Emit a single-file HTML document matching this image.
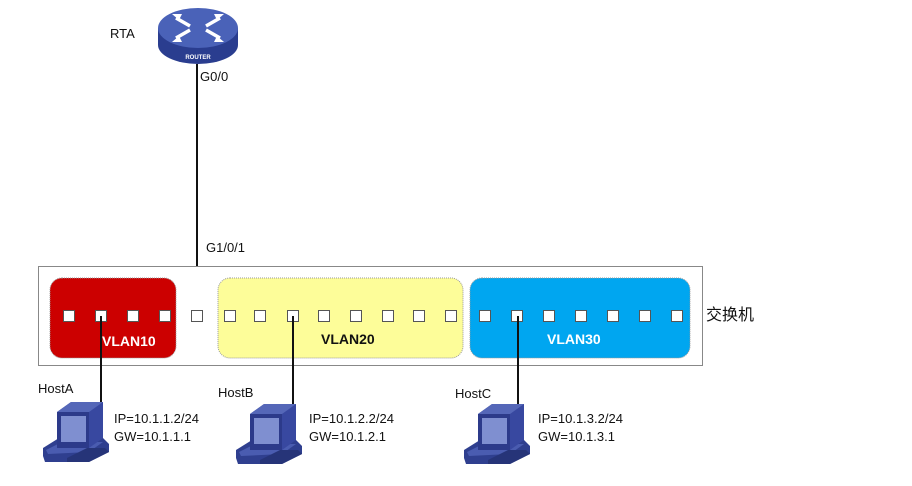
<!DOCTYPE html>
<html><head><meta charset="utf-8"><style>
html,body{margin:0;padding:0;background:#fff;}
svg{display:block;}
text{font-family:"Liberation Sans","Noto Sans CJK SC",sans-serif;}
</style></head><body>
<svg width="912" height="486" viewBox="0 0 912 486" xmlns="http://www.w3.org/2000/svg">
<defs>
<g id="pc">
  <polygon points="0,50 16,40 60,40 66,46 66,54 46,64 2,64 0,58" fill="#2f3f8f"/>
  <polygon points="3,52 19,44 60,44 46,54 5,56" fill="#4a5cb0"/>
  <polygon points="14,14 28,4 60,4 60,40 46,50 14,50" fill="#3848a0"/>
  <polygon points="14,14 46,14 46,50 14,50" fill="#2c3a8a"/>
  <rect x="18" y="18" width="25" height="26" fill="#7f8fd0"/>
  <polygon points="14,14 28,4 60,4 46,14" fill="#5567b8"/>
  <polygon points="24,60 44,50 62,50 66,54 46,64 24,64" fill="#263478"/>
</g>
</defs>
<!-- router -->
<ellipse cx="198" cy="45" rx="40" ry="19" fill="#2a3d8f"/>
<rect x="158" y="28" width="80" height="17" fill="#2a3d8f"/>
<ellipse cx="198" cy="28" rx="40" ry="20" fill="#4a62b8"/>
<text x="198" y="59" font-size="6" fill="#fff" text-anchor="middle" font-weight="bold">ROUTER</text>
<g stroke="#fff" stroke-width="3.5" fill="none">
  <path d="M176 18 L190 26 M176 38 L190 30 M220 18 L206 26 M220 38 L206 30"/>
</g>
<g fill="#fff">
  <polygon points="172,14 182,14 179,20"/><polygon points="172,42 182,42 179,36"/>
  <polygon points="224,14 214,14 217,20"/><polygon points="224,42 214,42 217,36"/>
</g>
<text x="110" y="38" font-size="13" fill="#111">RTA</text>
<text x="200" y="81" font-size="13" fill="#111">G0/0</text>
<line x1="197" y1="64" x2="197" y2="314" stroke="#111" stroke-width="2"/>
<text x="206" y="252" font-size="13" fill="#111">G1/0/1</text>
<!-- switch -->
<rect x="38.5" y="266.5" width="664" height="99" fill="#fff" stroke="#888" stroke-width="1"/>
<rect x="50" y="278" width="126" height="80" rx="12" fill="#cc0000" stroke="#999" stroke-dasharray="1,1"/>
<rect x="218" y="278" width="245" height="80" rx="12" fill="#fdfd99" stroke="#999" stroke-dasharray="1,1"/>
<rect x="470" y="278" width="220" height="80" rx="12" fill="#00a6f0" stroke="#999" stroke-dasharray="1,1"/>
<g fill="#fff" stroke="#555" stroke-width="1">
  <rect x="63.5" y="310.5" width="11" height="11"/><rect x="95.5" y="310.5" width="11" height="11"/>
  <rect x="127.5" y="310.5" width="11" height="11"/><rect x="159.5" y="310.5" width="11" height="11"/>
  <rect x="191.5" y="310.5" width="11" height="11"/>
  <rect x="224.5" y="310.5" width="11" height="11"/><rect x="254.5" y="310.5" width="11" height="11"/>
  <rect x="287.5" y="310.5" width="11" height="11"/><rect x="318.5" y="310.5" width="11" height="11"/>
  <rect x="350.5" y="310.5" width="11" height="11"/><rect x="382.5" y="310.5" width="11" height="11"/>
  <rect x="413.5" y="310.5" width="11" height="11"/><rect x="445.5" y="310.5" width="11" height="11"/>
  <rect x="479.5" y="310.5" width="11" height="11"/><rect x="511.5" y="310.5" width="11" height="11"/>
  <rect x="543.5" y="310.5" width="11" height="11"/><rect x="575.5" y="310.5" width="11" height="11"/>
  <rect x="607.5" y="310.5" width="11" height="11"/><rect x="639.5" y="310.5" width="11" height="11"/>
  <rect x="671.5" y="310.5" width="11" height="11"/>
</g>
<text x="102" y="346" font-size="14" font-weight="bold" fill="#fff">VLAN10</text>
<text x="321" y="344" font-size="14" font-weight="bold" fill="#111">VLAN20</text>
<text x="547" y="344" font-size="14" font-weight="bold" fill="#fff">VLAN30</text>
<text x="706" y="320" font-size="16" fill="#111">交换机</text>
<!-- host lines -->
<g stroke="#111" stroke-width="2">
  <line x1="101" y1="316" x2="101" y2="425"/>
  <line x1="293" y1="316" x2="293" y2="425"/>
  <line x1="518" y1="316" x2="518" y2="425"/>
</g>
<use href="#pc" x="43" y="398"/>
<use href="#pc" x="236" y="400"/>
<use href="#pc" x="464" y="400"/>
<text x="38" y="393" font-size="13" fill="#111">HostA</text>
<text x="218" y="397" font-size="13" fill="#111">HostB</text>
<text x="455" y="398" font-size="13" fill="#111">HostC</text>
<g font-size="13" fill="#111">
  <text x="114" y="423">IP=10.1.1.2/24</text><text x="114" y="441">GW=10.1.1.1</text>
  <text x="309" y="423">IP=10.1.2.2/24</text><text x="309" y="441">GW=10.1.2.1</text>
  <text x="538" y="423">IP=10.1.3.2/24</text><text x="538" y="441">GW=10.1.3.1</text>
</g>
</svg>
</body></html>
